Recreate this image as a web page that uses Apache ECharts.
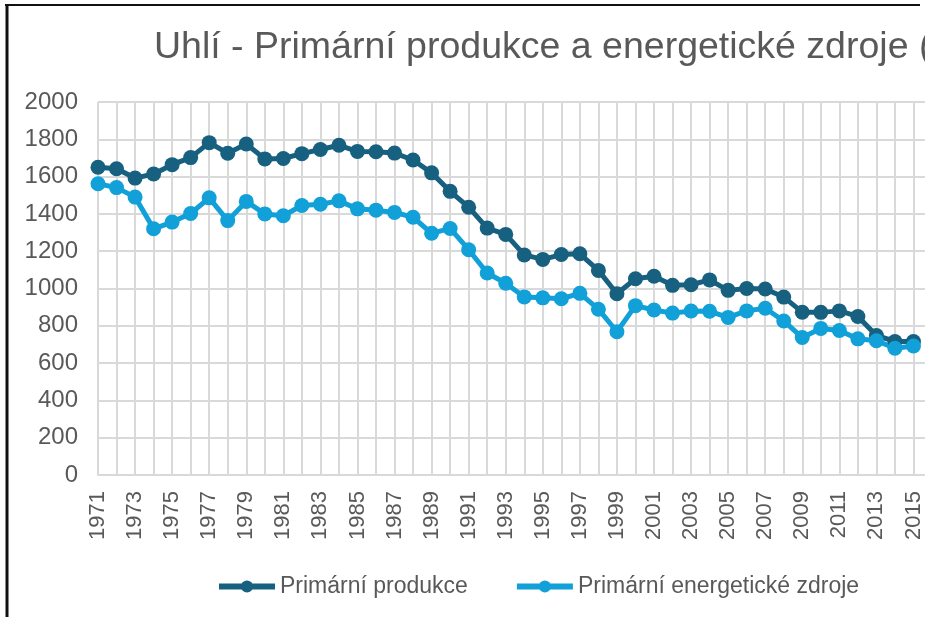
<!DOCTYPE html>
<html>
<head>
<meta charset="utf-8">
<script src="https://cdn.jsdelivr.net/npm/echarts@6/dist/echarts.min.js"></script>
<style>
  html, body { margin: 0; padding: 0; overflow: hidden; background: #fff; }
  #chart { width: 1000px; height: 617px; }
</style>
</head>
<body>
<div id="chart"></div>
<script>
// roky (2016 je v originale uz oriznuty za okrajem)
const years = [];
for (let y = 1971; y <= 2016; y++) years.push(String(y));

const primarniProdukce = [
  1650, 1642, 1592, 1614, 1664, 1702, 1782, 1725, 1775, 1695,
  1697, 1723, 1745, 1768, 1735, 1733, 1726, 1689, 1620, 1521,
  1436, 1324, 1290, 1180, 1156, 1182, 1186, 1097, 972, 1052,
  1066, 1017, 1020, 1046, 990, 1000, 997, 954, 873, 872,
  880, 850, 748, 716, 716, null
];

const primarniZdroje = [
  1562, 1541, 1490, 1320, 1356, 1402, 1486, 1364, 1467, 1400,
  1390, 1445, 1452, 1470, 1427, 1420, 1408, 1382, 1296, 1322,
  1208, 1083, 1028, 955, 950, 945, 974, 889, 768, 908,
  885, 868, 879, 878, 845, 880, 894, 826, 737, 786,
  775, 730, 720, 680, 692, null
];

const seriesNames = ['Primární produkce', 'Primární energetické zdroje'];
const colors = ['#17607f', '#11a0d7'];

const chart = echarts.init(document.getElementById('chart'));

const makeSeries = (name, data, color) => ({
  name: name,
  type: 'line',
  data: data,
  symbol: 'circle',
  symbolSize: 15,
  showAllSymbol: true,
  color: color,
  lineStyle: { width: 5, color: color },
  itemStyle: { color: color },
  animation: false
});

chart.setOption({
  textStyle: { fontFamily: 'Liberation Sans, Arial, sans-serif' },
  title: {
    text: 'Uhlí - Primární produkce a energetické zdroje (PJ)',
    left: 149,
    top: 24,
    textStyle: { fontSize: 37.5, fontWeight: 'normal', color: '#595959' }
  },
  legend: {
    left: 211,
    top: 570,
    itemWidth: 56,
    itemHeight: 15,
    itemGap: 46,
    textStyle: { fontSize: 23, color: '#595959' },
    data: seriesNames.map((n, i) => ({
      name: n,
      lineStyle: { width: 6, color: colors[i] },
      itemStyle: { color: colors[i] }
    }))
  },
  grid: { left: 98, top: 102, right: 68, bottom: 142 },
  xAxis: {
    type: 'category',
    data: years,
    boundaryGap: false,
    axisLine: { lineStyle: { color: '#d9d9d9', width: 2 } },
    axisTick: { show: false },
    axisLabel: {
      interval: 1,
      rotate: 90,
      margin: 16,
      fontSize: 22,
      color: '#595959'
    },
    splitLine: { show: true, interval: 0, lineStyle: { color: '#d9d9d9', width: 2 } }
  },
  yAxis: {
    type: 'value',
    min: 0,
    max: 2000,
    interval: 200,
    axisLine: { show: false },
    axisTick: { show: false },
    axisLabel: {
      fontSize: 24,
      color: '#595959',
      margin: 20,
      formatter: (v) => String(v)
    },
    splitLine: { lineStyle: { color: '#d9d9d9', width: 2 } }
  },
  graphic: [
    {
      type: 'line',
      shape: { x1: 7, y1: 4, x2: 7, y2: 617 },
      style: { stroke: '#111', lineWidth: 3 }
    },
    {
      type: 'line',
      shape: { x1: 5, y1: 5, x2: 920, y2: 5 },
      style: { stroke: '#111', lineWidth: 2 }
    }
  ],
  series: [
    makeSeries(seriesNames[0], primarniProdukce, colors[0]),
    makeSeries(seriesNames[1], primarniZdroje, colors[1])
  ]
});
</script>
</body>
</html>
